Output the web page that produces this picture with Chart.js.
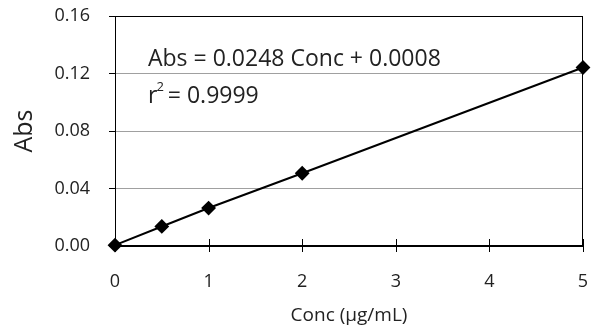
<!DOCTYPE html>
<html>
<head>
<meta charset="utf-8">
<script src="https://cdn.jsdelivr.net/npm/chart.js@4/dist/chart.umd.min.js"></script>
<style>
  html, body { margin: 0; padding: 0; background: #fff; }
  #wrap { width: 592px; height: 333px; }
</style>
</head>
<body>
<div id="wrap"><canvas id="chart" width="592" height="333"></canvas></div>
<script>
const conc = [0, 0.5, 1, 2, 5]
const abs = [0.0006, 0.0136, 0.0264, 0.0506, 0.1242]
const xTicks = [0, 1, 2, 3, 4, 5]
const yTicks = [0, 0.04, 0.08, 0.12, 0.16]
const equation = 'Abs = 0.0248 Conc + 0.0008'
const rSquared = '0.9999'

const FONT = "'Open Sans', 'Noto Sans CJK JP', sans-serif"

// frame, crossing x ticks and the regression text
const extras = {
  id: 'extras',
  beforeDatasetsDraw(chart) {
    const { ctx, chartArea: a, scales } = chart
    ctx.save()
    ctx.strokeStyle = '#000'
    ctx.lineWidth = 1
    ctx.strokeRect(a.left + 0.5, a.top + 0.5, a.right - a.left - 1, a.bottom - a.top)
    ctx.lineWidth = 2
    ctx.beginPath()
    ctx.moveTo(a.left, a.bottom)
    ctx.lineTo(a.right, a.bottom)
    ctx.stroke()
    ctx.lineWidth = 1
    xTicks.forEach((v) => {
      const x = Math.round(scales.x.getPixelForValue(v)) + 0.5
      ctx.beginPath()
      ctx.moveTo(x, a.bottom - 7)
      ctx.lineTo(x, a.bottom + 6)
      ctx.stroke()
    })
    ctx.restore()
  },
  afterDraw(chart) {
    const { ctx, chartArea: a } = chart
    ctx.save()
    ctx.fillStyle = '#222'
    ctx.textBaseline = 'alphabetic'
    ctx.font = '23px ' + FONT
    const x0 = a.left + 33
    ctx.fillText(equation, x0, 66)
    ctx.fillText('r', x0, 103)
    const rw = ctx.measureText('r').width
    ctx.font = '13px ' + FONT
    ctx.fillText('2', x0 + rw - 1, 91)
    const sw = ctx.measureText('2').width
    ctx.font = '23px ' + FONT
    ctx.fillText(' = ' + rSquared, x0 + rw + sw - 3, 103)
    ctx.restore()
  },
}

const ctx = document.getElementById('chart').getContext('2d')
new Chart(ctx, {
  type: 'scatter',
  data: {
    datasets: [
      {
        data: conc.map((c, i) => ({ x: c, y: abs[i] })),
        showLine: true,
        borderColor: '#000',
        borderWidth: 2,
        backgroundColor: '#000',
        pointStyle: 'rectRot',
        pointRadius: 6,
        pointHoverRadius: 6,
        clip: false,
      },
    ],
  },
  options: {
    responsive: false,
    animation: false,
    layout: { padding: { left: 0, right: 9, top: 16, bottom: 0 } },
    plugins: { legend: { display: false }, tooltip: { enabled: false } },
    scales: {
      x: {
        type: 'linear',
        min: 0,
        max: 5,
        afterBuildTicks: (s) => { s.ticks = xTicks.map((v) => ({ value: v })) },
        afterFit: (s) => {
          s.height = 87
          s.paddingLeft = 0
          s.paddingRight = 0
        },
        grid: { display: false, drawTicks: false },
        border: { display: false },
        ticks: {
          padding: 25,
          color: '#222',
          font: { family: FONT, size: 18 },
          callback: (v) => String(v),
        },
        title: {
          display: true,
          text: 'Conc (μg/mL)',
          color: '#222',
          font: { family: FONT, size: 19 },
          padding: { top: 0, bottom: 6 },
        },
      },
      y: {
        min: 0,
        max: 0.16,
        afterBuildTicks: (s) => { s.ticks = yTicks.map((v) => ({ value: v })) },
        afterFit: (s) => {
          s.width = 115
          s.paddingTop = 0
          s.paddingBottom = 0
        },
        grid: {
          color: (c) => (c.tick && (c.tick.value === 0 || c.tick.value === 0.16) ? 'rgba(0,0,0,0)' : '#a0a0a0'),
          tickColor: '#000',
          tickLength: 6,
        },
        border: { display: false },
        ticks: {
          padding: 19,
          color: '#222',
          font: { family: FONT, size: 18 },
          callback: (v) => Number(v).toFixed(2),
        },
        title: {
          display: true,
          text: 'Abs',
          color: '#222',
          font: { family: FONT, size: 25 },
          padding: { top: 10, bottom: 0 },
        },
      },
    },
  },
  plugins: [extras],
})
</script>
</body>
</html>
